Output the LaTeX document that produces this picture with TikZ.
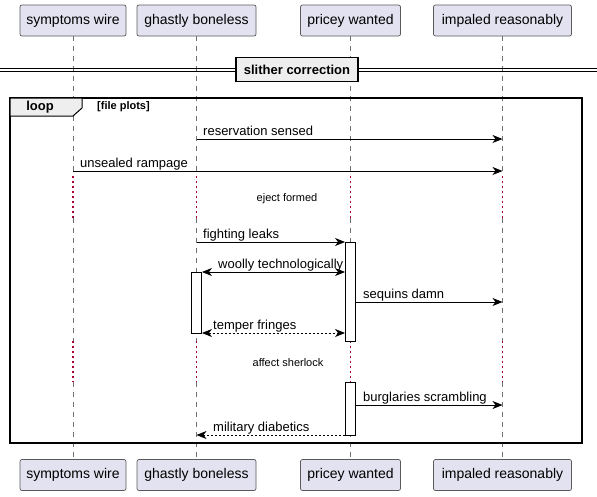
\documentclass[tikz,border=0pt]{standalone}
\usepackage{fontspec}
\setmainfont{Liberation Sans}
\usetikzlibrary{arrows.meta}
\definecolor{partfill}{HTML}{E2E2F0}
\definecolor{partline}{HTML}{5A5A5A}
\definecolor{lifecol}{HTML}{707070}
\definecolor{delaycol}{HTML}{A80036}
\definecolor{grpfill}{HTML}{EEEEEE}
\tikzset{
  part/.style={draw=partline, fill=partfill, rounded corners=2pt, line width=0.7pt,
    minimum height=31pt, inner sep=0pt, font=\fontsize{14}{16}\selectfont},
  life/.style={draw=lifecol, line width=0.7pt, dash pattern=on 5pt off 5pt},
  delayline/.style={draw=delaycol, line width=1.2pt, dash pattern=on 1.5pt off 3.5pt},
  tip/.tip={Stealth[length=10pt,width=8pt,inset=3pt]},
  msg/.style={draw=black, line width=0.9pt, -tip},
  dmsg/.style={msg, dash pattern=on 2pt off 2pt},
  bimsg/.style={draw=black, line width=0.9pt, tip-tip},
  dbimsg/.style={bimsg, dash pattern=on 2pt off 2pt},
  lbl/.style={anchor=base west, inner sep=0pt, font=\fontsize{13}{15}\selectfont},
  dlbl/.style={inner sep=0pt, font=\fontsize{11}{13}\selectfont},
  act/.style={draw=black, fill=white, line width=0.9pt, minimum width=10pt, inner sep=0pt, anchor=north},
}
\begin{document}
\begin{tikzpicture}[x=1pt,y=-1pt]
\useasboundingbox (0,0) rectangle (597,496);
% participants
\node[part, minimum width=106pt] (At) at (73,20.5) {symptoms wire};
\node[part, minimum width=119pt] (Bt) at (196.5,20.5) {ghastly boneless};
\node[part, minimum width=100pt] (Ct) at (350.5,20.5) {pricey wanted};
\node[part, minimum width=138pt] (Dt) at (502.5,20.5) {impaled reasonably};
\node[part, minimum width=106pt] (Ab) at (73,475) {symptoms wire};
\node[part, minimum width=119pt] (Bb) at (196.5,475) {ghastly boneless};
\node[part, minimum width=100pt] (Cb) at (350.5,475) {pricey wanted};
\node[part, minimum width=138pt] (Db) at (502.5,475) {impaled reasonably};
% delay coordinates
\coordinate (d1s) at (0,176);
\coordinate (d1e) at (0,218);
\coordinate (d2s) at (0,341);
\coordinate (d2e) at (0,382);
% lifelines
\foreach \p in {A,B,C,D} {
  \draw[life] (\p t.south) -- (\p t.south |- d1s);
  \draw[delayline] (\p t.south |- d1s) -- (\p t.south |- d1e);
  \draw[life] (\p t.south |- d1e) -- (\p t.south |- d2s);
  \draw[delayline] (\p t.south |- d2s) -- (\p t.south |- d2e);
  \draw[life] (\p t.south |- d2e) -- (\p b.north);
}
% divider
\coordinate (dl) at (0,70);
\coordinate (dr) at (597,70);
\draw[line width=0.9pt] ([yshift=-1.6pt]dl) -- ([yshift=-1.6pt]dr);
\draw[line width=0.9pt] ([yshift=1.6pt]dl) -- ([yshift=1.6pt]dr);
\node[draw=black, fill=grpfill, line width=1.6pt, minimum width=122pt, minimum height=24pt, inner sep=0pt,
  font=\bfseries\fontsize{13}{15}\selectfont] (div) at (297,69.5) {slither correction};
% loop frame
\draw[line width=1.5pt] (10,98) rectangle (582,443);
\filldraw[fill=grpfill, draw=black, line width=1pt] (10,98) -- (82,98) -- (82,108) -- (73,116) -- (10,116) -- cycle;
\node[font=\bfseries\fontsize{13}{15}\selectfont, inner sep=0pt] (looplbl) at (40,107) {loop};
\node[font=\bfseries\fontsize{11}{13}\selectfont, inner sep=0pt, anchor=west] (loopcond) at (97,106.5) {[file plots]};
% activations
\node[act, minimum height=99pt] (c1) at (350.5,242) {};
\node[act, minimum height=61pt] (b1) at (196.5,272) {};
\node[act, minimum height=53pt] (c2) at (350.5,382) {};
% message rows
\coordinate (y1) at (0,139);
\coordinate (y2) at (0,171);
\coordinate (y3) at (0,242);
\coordinate (y4) at (0,272);
\coordinate (y5) at (0,302);
\coordinate (y6) at (0,333);
\coordinate (y7) at (0,405);
\coordinate (y8) at (0,435);
\draw[msg] (Bt |- y1) -- (Dt |- y1);
\node[lbl] (m1) at (203,135) {reservation sensed};
\draw[msg] (At |- y2) -- (Dt |- y2);
\node[lbl] (m2) at (80,167) {unsealed rampage};
\node[dlbl] (e1) at (287,199) {eject formed};
\draw[msg] (Bt |- y3) -- (c1.west |- y3);
\node[lbl] (m3) at (203,238) {fighting leaks};
\draw[bimsg] (b1.east |- y4) -- (c1.west |- y4);
\node[lbl] (m4) at (218,268) {woolly technologically};
\draw[msg] (c1.east |- y5) -- (Dt |- y5);
\node[lbl] (m5) at (363,298) {sequins damn};
\draw[dbimsg] (b1.east |- y6) -- (c1.west |- y6);
\node[lbl] (m6) at (213,329) {temper fringes};
\node[dlbl] (e2) at (288,363) {affect sherlock};
\draw[msg] (c2.east |- y7) -- (Dt |- y7);
\node[lbl] (m7) at (363,401) {burglaries scrambling};
\draw[dmsg] (c2.west |- y8) -- (Bt |- y8);
\node[lbl] (m8) at (213,431) {military diabetics};
\end{tikzpicture}
\end{document}
